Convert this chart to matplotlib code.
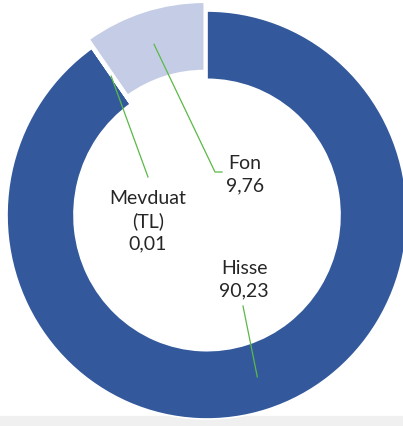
import numpy as np
import matplotlib.pyplot as plt

labels = ['Hisse', 'Mevduat\n(TL)', 'Fon']
values = [90.23, 0.01, 9.76]
value_text = ['90,23', '0,01', '9,76']
colors = ['#33599c', '#a5a5a5', '#c5cde6']
explode = [0, 0, 0.045]

W, H = 403, 426
CX, CY = 207, 215      # donut centre in pixels
RX, RY = 200, 204      # outer radius in pixels (slightly stretched, as the original)


def px(x, y):
    # pixel position -> data position
    return (x - CX) / RX, (CY - y) / RY


fig = plt.figure(figsize=(W / 100, H / 100), dpi=100)
ax = fig.add_axes([0, 0, 1, 1])

wedges, _ = ax.pie(values, colors=colors, explode=explode, startangle=90,
                   counterclock=False, radius=1,
                   wedgeprops=dict(width=0.335, edgecolor='white', linewidth=1.2))

ax.set_aspect('auto')
ax.set_xlim(px(0, 0)[0], px(W, 0)[0])
ax.set_ylim(px(0, H)[1], px(0, 0)[1])
ax.axis('off')

# light grey strip at the bottom
y0 = px(0, 416)[1]
ax.axhspan(px(0, H)[1], y0, color='#f0f0f0', zorder=0)
for w in wedges:
    w.set_zorder(2)

# label positions (pixels) and leader line bends
label_pos = [(244, 280), (148, 221), (245, 175)]
line_ends = [[(243, 306)], [(148, 177)], [(215, 172), (222, 172)]]

for w, lab, val, pos, ends in zip(wedges, labels, value_text, label_pos, line_ends):
    mid = np.deg2rad((w.theta1 + w.theta2) / 2)
    r_mid = 1 - 0.335 / 2
    ax_x = w.center[0] + r_mid * np.cos(mid)
    ax_y = w.center[1] + r_mid * np.sin(mid)
    pts = [(ax_x, ax_y)] + [px(*p) for p in ends]
    xs, ys = zip(*pts)
    ax.plot(xs, ys, color='#5ab946', lw=0.9, zorder=3)
    tx, ty = px(*pos)
    ax.text(tx, ty, lab + '\n' + val, ha='center', va='center',
            fontsize=14, family=['Lato', 'DejaVu Sans'], color='#262626',
            linespacing=1.38, zorder=4)

fig.savefig('out.png', dpi=100)
